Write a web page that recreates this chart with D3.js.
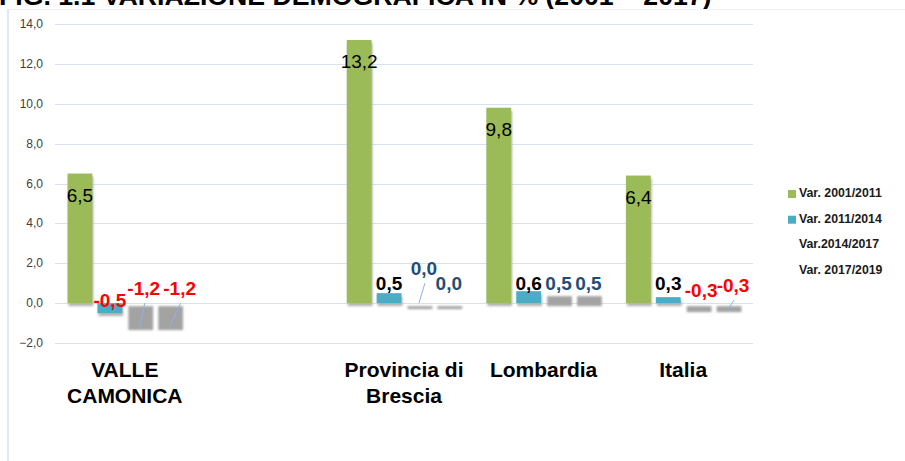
<!DOCTYPE html>
<html>
<head lang="it">
    <meta charset="UTF-8">
    <title>Variazione demografica</title>
    <script type="text/javascript" src="https://cdn.jsdelivr.net/npm/d3@7"></script>
    <style type="text/css">
        body { margin: 0; background: #fff; }
        svg { display: block; font-family: "Liberation Sans", Arial, sans-serif; }
        .tick-label { font-size: 12px; fill: #404040; text-anchor: end; }
        .cat-label { font-size: 21px; font-weight: bold; fill: #000; text-anchor: middle; }
        .legend-text { font-size: 12.3px; font-weight: bold; fill: #1a1a1a; }
    </style>
</head>
<body>
<script type="text/javascript">
    // dati
    var categories = ["VALLE CAMONICA", "", "Provincia di Brescia", "Lombardia", "Italia"];
    var categoryLines = [["VALLE", "CAMONICA"], [], ["Provincia di", "Brescia"], ["Lombardia"], ["Italia"]];
    var seriesNames = ["Var. 2001/2011", "Var. 2011/2014", "Var.2014/2017", "Var. 2017/2019"];
    var var2001_2011 = [6.5, null, 13.2, 9.8, 6.4];
    var var2011_2014 = [-0.5, null, 0.5, 0.6, 0.3];
    var var2014_2017 = [-1.2, null, 0.0, 0.5, -0.3];
    var var2017_2019 = [-1.2, null, 0.0, 0.5, -0.3];
    var yTicks = [-2, 0, 2, 4, 6, 8, 10, 12, 14];
    var titleText = "FIG. 1.1 VARIAZIONE DEMOGRAFICA IN % (2001 \u2013 2017)";

    var seriesValues = [var2001_2011, var2011_2014, var2014_2017, var2017_2019];
    var seriesFill = ["#9bbb59", "#4bacc6", "none", "none"];

    // etichette spostate a mano nel grafico originale (dx, dy)
    var labelNudge = {
        "0|2": [4, 0], "0|3": [10, 0],
        "2|2": [5, -15],
        "4|2": [3, 2], "4|3": [5, -3]
    };

    var W = 905, H = 461;
    var svg = d3.select("body").append("svg").attr("width", W).attr("height", H);

    var defs = svg.append("defs");
    defs.append("filter").attr("id", "shadow")
        .attr("x", "-20%").attr("y", "-50%").attr("width", "140%").attr("height", "200%")
        .append("feGaussianBlur").attr("stdDeviation", 1.1);

    // titolo (tagliato in alto)
    var title = svg.append("text").attr("x", -1).attr("y", 5)
        .style("font-size", "24px").style("font-weight", "bold").text(titleText);
    var tw = title.node().getComputedTextLength();
    title.style("font-size", (24 * 713 / tw) + "px");

    // cornice
    svg.append("line").attr("x1", 8).attr("x2", W).attr("y1", 9.5).attr("y2", 9.5)
        .attr("stroke", "#eef1f6").attr("stroke-width", 1);
    svg.append("line").attr("x1", 8).attr("x2", 8).attr("y1", 9).attr("y2", H)
        .attr("stroke", "#dfe8f3").attr("stroke-width", 2);

    var y = d3.scaleLinear().domain([-2, 14]).range([343, 24]);
    var x0 = d3.scaleBand().domain(d3.range(categories.length)).range([55, 753])
        .paddingInner(0.18).paddingOuter(0.09);
    var x1 = d3.scaleBand().domain(d3.range(seriesNames.length)).range([0, x0.bandwidth()])
        .paddingInner(0.17);
    var y0 = y(0);

    // griglia + etichette asse
    var grid = svg.append("g");
    grid.selectAll("line").data(yTicks).enter().append("line")
        .attr("x1", 55).attr("x2", 753)
        .attr("y1", function(d){ return Math.round(y(d)) + 0.5; })
        .attr("y2", function(d){ return Math.round(y(d)) + 0.5; })
        .attr("stroke", "#d6e1f0").attr("stroke-width", 1);
    grid.selectAll("text").data(yTicks).enter().append("text")
        .attr("class", "tick-label")
        .attr("x", 43).attr("y", function(d){ return y(d) + 4; })
        .text(function(d){ return d3.format(".1f")(d).replace(".", ","); });

    // punti
    var points = [];
    seriesValues.forEach(function(vals, s) {
        vals.forEach(function(v, c) {
            if (v === null) return;
            points.push({s: s, c: c, v: v});
        });
    });
    function bx(d) { return x0(d.c) + x1(d.s); }
    function cx(d) { return bx(d) + x1.bandwidth() / 2; }

    // ombre
    svg.append("g").selectAll("rect").data(points).enter().append("rect")
        .attr("x", function(d){ return bx(d) + 1; })
        .attr("y", function(d){ return Math.min(y(d.v), y0) + 3; })
        .attr("width", x1.bandwidth())
        .attr("height", function(d){ return Math.max(Math.abs(y(d.v) - y0), 3); })
        .attr("fill", function(d){ return d.s >= 2 ? "#a3a3a3" : "#b5b5b5"; })
        .attr("filter", "url(#shadow)");

    // barre
    svg.append("g").selectAll("rect").data(points.filter(function(d){ return seriesFill[d.s] !== "none"; }))
        .enter().append("rect")
        .attr("x", bx)
        .attr("y", function(d){ return Math.min(y(d.v), y0); })
        .attr("width", x1.bandwidth())
        .attr("height", function(d){ return Math.abs(y(d.v) - y0); })
        .attr("fill", function(d){ return seriesFill[d.s]; });

    // etichette valori
    var fmt = function(v){ return d3.format(".1f")(v).replace(".", ",").replace("\u2212", "-"); };
    var labels = points.map(function(d) {
        var nudge = labelNudge[d.c + "|" + d.s] || [0, 0];
        var lx = cx(d), ly;
        if (d.s === 0) ly = y(d.v) + 28;
        else if (d.v < 0 && d.s === 1) ly = y0 + 4;
        else if (d.v < 0) ly = y0 - 8;
        else ly = y0 - 13;
        return {d: d, x: lx + nudge[0], y: ly + nudge[1], lead: Math.abs(nudge[0]) >= 4};
    });

    svg.append("g").selectAll("line").data(labels.filter(function(l){ return l.lead; }))
        .enter().append("line")
        .attr("x1", function(l){ return l.x + 1; })
        .attr("y1", function(l){ return l.y + 8; })
        .attr("x2", function(l){ return cx(l.d); })
        .attr("y2", function(l){ return y(l.d.v); })
        .attr("stroke", "#8db3e2").attr("stroke-width", 1);

    svg.append("g").selectAll("text").data(labels).enter().append("text")
        .attr("x", function(l){ return l.x; })
        .attr("y", function(l){ return l.y; })
        .attr("text-anchor", "middle")
        .style("font-size", "19px")
        .style("font-weight", function(l){ return l.d.s === 0 ? "normal" : "bold"; })
        .attr("fill", function(l){
            if (l.d.v < 0) return "#ff0000";
            if (l.d.s >= 2) return "#1f4e79";
            return "#000";
        })
        .text(function(l){ return fmt(l.d.v); });

    // etichette categorie
    var cats = svg.append("g").selectAll("text").data(categoryLines).enter().append("text")
        .attr("class", "cat-label")
        .attr("x", function(d, i){ return x0(i) + x0.bandwidth() / 2; })
        .attr("y", 377);
    cats.selectAll("tspan").data(function(d){ return d; }).enter().append("tspan")
        .attr("x", function(){ var p = this.parentNode; return p.getAttribute("x"); })
        .attr("dy", function(d, i){ return i === 0 ? 0 : 25.5; })
        .text(function(d){ return d; });

    // legenda
    var leg = svg.append("g").selectAll("g").data(seriesNames).enter().append("g")
        .attr("transform", function(d, i){ return "translate(788," + (197 + i * 25.7) + ")"; });
    leg.append("rect").attr("x", 0).attr("y", -7).attr("width", 8).attr("height", 8)
        .attr("fill", function(d, i){ return seriesFill[i]; });
    leg.append("text").attr("class", "legend-text").attr("x", 11).attr("y", 0)
        .text(function(d){ return d; });
</script>
</body>
</html>
